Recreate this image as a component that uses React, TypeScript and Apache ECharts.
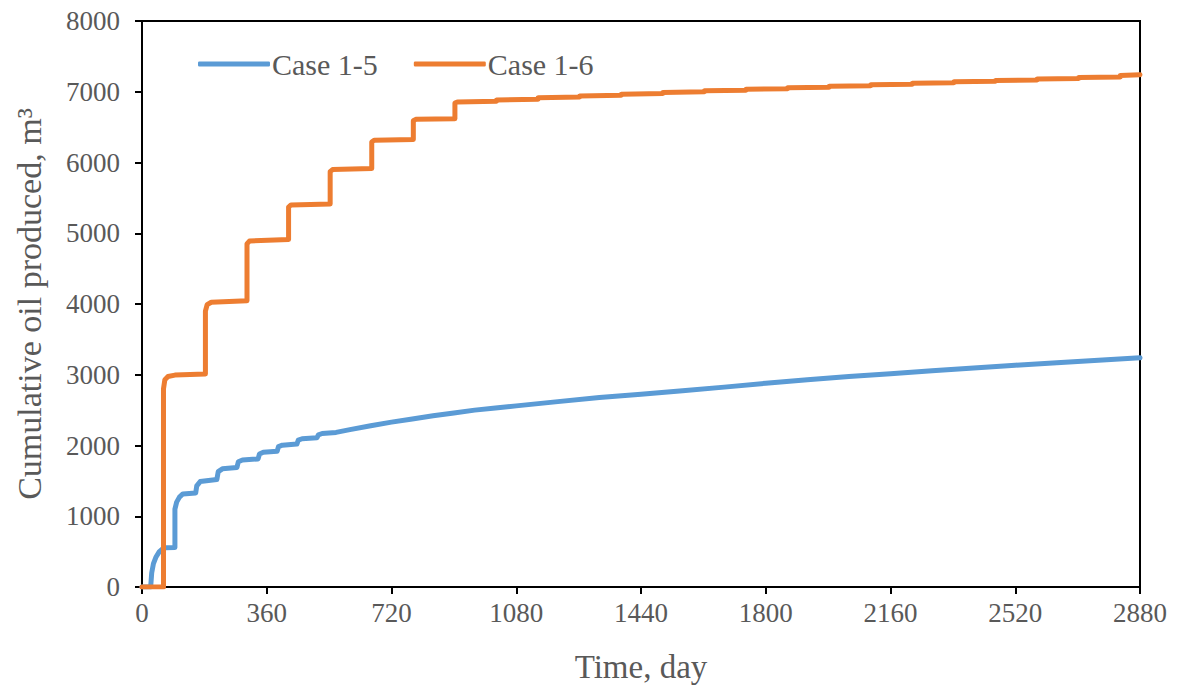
import React, { useEffect, useRef } from "react";
import * as echarts from "echarts";

const xTicks = [0, 360, 720, 1080, 1440, 1800, 2160, 2520, 2880];
const yTicks = [0, 1000, 2000, 3000, 4000, 5000, 6000, 7000, 8000];

const seriesNames = ["Case 1-5", "Case 1-6"];

const case15Days = [
  0, 25, 28, 33, 40, 50, 60, 66, 95,
  95, 100, 108, 118, 155,
  158, 168, 216,
  220, 232, 274,
  278, 290, 335,
  339, 350, 390,
  394, 405, 447,
  451, 462, 505,
  509, 520, 560,
  600, 660, 720, 780, 840, 900, 960, 1020, 1080, 1200, 1320, 1440, 1560, 1680,
  1800, 1920, 2040, 2160, 2280, 2400, 2520, 2640, 2760, 2880,
];
const case15Values = [
  0, 0, 200, 330, 420, 500, 540, 555, 560,
  1100, 1200, 1270, 1315, 1330,
  1430, 1490, 1520,
  1630, 1670, 1690,
  1770, 1795, 1810,
  1880, 1905, 1920,
  1985, 2005, 2020,
  2075, 2095, 2110,
  2150, 2170, 2185,
  2225, 2280, 2330, 2375, 2420, 2460, 2500, 2530, 2560, 2620, 2680, 2725, 2775, 2825,
  2880, 2930, 2975, 3015, 3055, 3095, 3135, 3170, 3205, 3240,
];

const case16Days = [
  0, 62, 62, 66, 75, 95, 183,
  183, 188, 200, 303,
  303, 310, 423,
  423, 430, 543,
  543, 550, 663,
  663, 670, 783,
  783, 790, 903,
  903, 910, 1023,
  1023, 1143,
  1143, 1263,
  1263, 1383,
  1383, 1503,
  1503, 1623,
  1623, 1743,
  1743, 1863,
  1863, 1983,
  1983, 2103,
  2103, 2223,
  2223, 2343,
  2343, 2463,
  2463, 2583,
  2583, 2703,
  2703, 2823,
  2823, 2880,
];
const case16Values = [
  0, 0, 2800, 2930, 2975, 2995, 3010,
  3900, 3990, 4025, 4045,
  4850, 4890, 4910,
  5370, 5400, 5415,
  5870, 5900, 5915,
  6290, 6315, 6325,
  6590, 6610, 6620,
  6840, 6855, 6865,
  6885, 6895,
  6915, 6925,
  6940, 6950,
  6965, 6975,
  6990, 7000,
  7015, 7022,
  7035, 7042,
  7055, 7062,
  7078, 7085,
  7100, 7107,
  7120, 7127,
  7140, 7147,
  7160, 7167,
  7180, 7187,
  7200, 7210,
  7228, 7240,
];

const colors = ["#5B9BD5", "#ED7D31"];
const FONT = "'Liberation Serif', 'Times New Roman', serif";
const TEXT = "#595959";

export default function App() {
  const ref = useRef<HTMLDivElement>(null);
  useEffect(() => {
    document.body.style.margin = "0";
    if (!ref.current) return;
    const chart = echarts.init(ref.current, null, { renderer: "svg" });
    const pair = (d: number[], v: number[]) => d.map((x, i) => [x, v[i]]);
    chart.setOption({
      animation: false,
      backgroundColor: "#ffffff",
      grid: {
        left: 142,
        right: 39,
        top: 21,
        bottom: 102,
        show: true,
        borderColor: "#000",
        borderWidth: 2,
        backgroundColor: "transparent",
      },
      legend: {
        left: 193,
        top: 44,
        icon: "roundRect",
        itemWidth: 72,
        itemHeight: 5,
        itemGap: 36,
        textStyle: { fontFamily: FONT, fontSize: 30, color: TEXT, padding: [0, 0, 0, -3] },
        data: seriesNames,
      },
      xAxis: {
        type: "value",
        min: xTicks[0],
        max: xTicks[xTicks.length - 1],
        interval: 360,
        name: "Time, day",
        nameLocation: "middle",
        nameGap: 63,
        nameTextStyle: { fontFamily: FONT, fontSize: 33, color: TEXT },
        axisLine: { lineStyle: { color: "#000", width: 2 } },
        axisTick: { show: true, length: 7, inside: false, lineStyle: { color: "#000", width: 2 } },
        axisLabel: { fontFamily: FONT, fontSize: 27, color: TEXT, margin: 12, formatter: (v: number) => String(v) },
        splitLine: { show: false },
      },
      yAxis: {
        type: "value",
        min: yTicks[0],
        max: yTicks[yTicks.length - 1],
        interval: 1000,
        name: "Cumulative oil produced, m³",
        nameLocation: "middle",
        nameGap: 96,
        nameTextStyle: { fontFamily: FONT, fontSize: 34, color: TEXT },
        axisLine: { show: true, lineStyle: { color: "#000", width: 2 } },
        axisTick: { show: true, length: 7, inside: false, lineStyle: { color: "#000", width: 2 } },
        axisLabel: { fontFamily: FONT, fontSize: 27, color: TEXT, margin: 22, formatter: (v: number) => String(v) },
        splitLine: { show: false },
      },
      series: [
        {
          name: seriesNames[0],
          type: "line",
          data: pair(case15Days, case15Values),
          showSymbol: false,
          symbol: "none",
          color: colors[0],
          lineStyle: { width: 5, color: colors[0], join: "round", cap: "round" },
        },
        {
          name: seriesNames[1],
          type: "line",
          data: pair(case16Days, case16Values),
          showSymbol: false,
          symbol: "none",
          color: colors[1],
          lineStyle: { width: 5, color: colors[1], join: "round", cap: "round" },
        },
      ],
    });
    return () => chart.dispose();
  }, []);
  return <div ref={ref} style={{ width: 1179, height: 689 }} />;
}
